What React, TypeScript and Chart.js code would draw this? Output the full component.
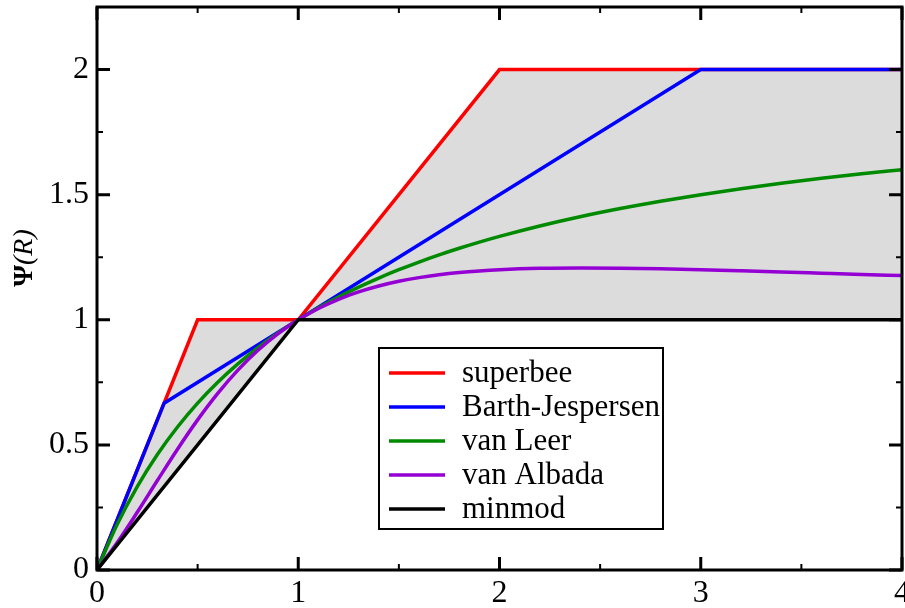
import { useEffect, useRef } from "react";
import { Chart, registerables } from "chart.js";

Chart.register(...registerables);

// ---- data ----
const smoothR = [
  0, 0.1, 0.2, 0.3, 0.4, 0.5, 0.6, 0.7, 0.8, 0.9, 1.0,
  1.1, 1.2, 1.3, 1.4, 1.5, 1.6, 1.7, 1.8, 1.9, 2.0,
  2.2, 2.4, 2.6, 2.8, 3.0, 3.2, 3.4, 3.6, 3.8, 4.0,
];
const vanLeerPsi = [
  0, 0.1818, 0.3333, 0.4615, 0.5714, 0.6667, 0.75, 0.8235, 0.8889, 0.9474, 1.0,
  1.0476, 1.0909, 1.1304, 1.1667, 1.2, 1.2308, 1.2593, 1.2857, 1.3103, 1.3333,
  1.375, 1.4118, 1.4444, 1.4737, 1.5, 1.5238, 1.5455, 1.5652, 1.5833, 1.6,
];
const vanAlbadaPsi = [
  0, 0.1089, 0.2308, 0.3578, 0.4828, 0.6, 0.7059, 0.7987, 0.878, 0.9448, 1.0,
  1.0452, 1.082, 1.1115, 1.1351, 1.1538, 1.1685, 1.1799, 1.1887, 1.1952, 1.2,
  1.2055, 1.2071, 1.2062, 1.2036, 1.2, 1.1957, 1.1911, 1.1862, 1.1813, 1.1765,
];
const superbeeR = [0, 0.5, 1, 2, 4];
const superbeePsi = [0, 1, 1, 2, 2];
const barthR = [0, 0.3333, 1, 3, 4];
const barthPsi = [0, 0.6667, 1, 2, 2];
const minmodR = [0, 1, 4];
const minmodPsi = [0, 1, 1];
const regionR = [0, 0.5, 1, 2, 4];
const regionUpper = [0, 1, 1, 2, 2];
const regionLower = [0, 0.5, 1, 1, 1];

const xMajor = [0, 1, 2, 3, 4];
const xMinor = [0.5, 1.5, 2.5, 3.5];
const xLabels = ["0", "1", "2", "3", "4"];
const yMajor = [0, 0.5, 1, 1.5, 2];
const yMinor = [0.25, 0.75, 1.25, 1.75];
const yLabels = ["0", "0.5", "1", "1.5", "2"];

const seriesNames = ["superbee", "Barth-Jespersen", "van Leer", "van Albada", "minmod"];
const seriesColors = ["#ff0000", "#0000ff", "#008a00", "#9400d3", "#000000"];

const pts = (xs: number[], ys: number[]) => xs.map((x, i) => ({ x, y: ys[i] }));

const SERIF = '"Liberation Serif", "DejaVu Serif", serif';

const framePlugin = {
  id: "frame",
  afterDatasetsDraw(chart: any) {
    const { ctx, chartArea: a, scales } = chart;
    const x = scales.x;
    const y = scales.y;
    ctx.save();
    ctx.strokeStyle = "#000";
    const drawX = (vals: number[], len: number, w: number) => {
      ctx.lineWidth = w;
      vals.forEach((v) => {
        const px = x.getPixelForValue(v);
        ctx.beginPath();
        ctx.moveTo(px, a.bottom);
        ctx.lineTo(px, a.bottom - len);
        ctx.moveTo(px, a.top);
        ctx.lineTo(px, a.top + len);
        ctx.stroke();
      });
    };
    const drawY = (vals: number[], len: number, w: number) => {
      ctx.lineWidth = w;
      vals.forEach((v) => {
        const py = y.getPixelForValue(v);
        ctx.beginPath();
        ctx.moveTo(a.left, py);
        ctx.lineTo(a.left + len, py);
        ctx.moveTo(a.right, py);
        ctx.lineTo(a.right - len, py);
        ctx.stroke();
      });
    };
    drawX(xMajor, 13, 3);
    drawX(xMinor, 6, 2);
    drawY(yMajor, 13, 3);
    drawY(yMinor, 6, 2);
    ctx.lineWidth = 3;
    ctx.strokeRect(a.left, a.top, a.right - a.left, a.bottom - a.top);
    ctx.restore();
  },
};

const legendPlugin = {
  id: "boxLegend",
  afterDraw(chart: any) {
    const { ctx } = chart;
    const left = 379;
    const top = 348;
    const right = 663;
    const bottom = 529;
    ctx.save();
    ctx.fillStyle = "#fff";
    ctx.fillRect(left, top, right - left, bottom - top);
    ctx.strokeStyle = "#000";
    ctx.lineWidth = 2;
    ctx.strokeRect(left, top, right - left, bottom - top);
    ctx.font = `31px ${SERIF}`;
    ctx.textBaseline = "middle";
    ctx.textAlign = "left";
    seriesNames.forEach((name, i) => {
      const cy = top + 25 + i * 34;
      ctx.strokeStyle = seriesColors[i];
      ctx.lineWidth = 3.5;
      ctx.beginPath();
      ctx.moveTo(389, cy);
      ctx.lineTo(445, cy);
      ctx.stroke();
      ctx.fillStyle = "#000";
      ctx.fillText(name, 462, cy + 1);
    });
    ctx.restore();
  },
};

const titlePlugin = {
  id: "yTitle",
  afterDraw(chart: any) {
    const { ctx } = chart;
    ctx.save();
    ctx.translate(25, 258);
    ctx.rotate(-Math.PI / 2);
    ctx.fillStyle = "#000";
    ctx.textBaseline = "middle";
    ctx.textAlign = "left";
    const f1 = `bold 28px ${SERIF}`;
    const f2 = `italic 28px ${SERIF}`;
    ctx.font = f1;
    const w1 = ctx.measureText("Ψ").width;
    ctx.font = f2;
    const w2 = ctx.measureText("(R)").width;
    const start = -(w1 + w2) / 2;
    ctx.font = f1;
    ctx.fillText("Ψ", start, 0);
    ctx.font = f2;
    ctx.fillText("(R)", start + w1, 0);
    ctx.restore();
  },
};

export default function App() {
  const ref = useRef<HTMLCanvasElement | null>(null);
  useEffect(() => {
    if (!ref.current) return;
    const line = (label: string, data: any[], color: string, order: number, smooth = false) => ({
      label,
      data,
      borderColor: color,
      backgroundColor: color,
      borderWidth: 3.5,
      pointRadius: 0,
      fill: false,
      order,
      tension: 0,
      cubicInterpolationMode: smooth ? "monotone" : "default",
    });
    const chart = new Chart(ref.current, {
      type: "line",
      data: {
        datasets: [
          line(seriesNames[0], pts(superbeeR, superbeePsi), seriesColors[0], 4) as any,
          line(seriesNames[1], pts(barthR, barthPsi), seriesColors[1], 3) as any,
          line(seriesNames[2], pts(smoothR, vanLeerPsi), seriesColors[2], 2, true) as any,
          line(seriesNames[3], pts(smoothR, vanAlbadaPsi), seriesColors[3], 1, true) as any,
          line(seriesNames[4], pts(minmodR, minmodPsi), seriesColors[4], 0) as any,
          {
            label: "region",
            data: pts(regionR, regionUpper),
            borderWidth: 0,
            borderColor: "rgba(0,0,0,0)",
            backgroundColor: "#dcdcdc",
            pointRadius: 0,
            fill: "+1",
            order: 10,
          } as any,
          {
            label: "regionLow",
            data: pts(regionR, regionLower),
            borderWidth: 0,
            borderColor: "rgba(0,0,0,0)",
            pointRadius: 0,
            fill: false,
            order: 11,
          } as any,
        ],
      },
      options: {
        animation: false,
        responsive: false,
        devicePixelRatio: 1,
        layout: { padding: { left: 0, top: 7, right: 3, bottom: 0 } },
        plugins: {
          legend: { display: false },
          tooltip: { enabled: false },
        },
        scales: {
          x: {
            type: "linear",
            min: 0,
            max: 4,
            afterFit: (s: any) => {
              s.height = 38;
              s.paddingLeft = 0;
              s.paddingRight = 0;
            },
            afterBuildTicks: (s: any) => {
              s.ticks = xMajor.map((v) => ({ value: v }));
            },
            grid: { display: false, drawTicks: false },
            border: { display: false },
            ticks: {
              padding: 4,
              color: "#000",
              font: { family: SERIF, size: 32 },
              maxRotation: 0,
              callback: (v: any) => {
                const i = xMajor.indexOf(Number(v));
                return i >= 0 ? xLabels[i] : "";
              },
            },
          },
          y: {
            type: "linear",
            min: 0,
            max: 2.25,
            afterFit: (s: any) => {
              s.width = 97;
              s.paddingTop = 0;
              s.paddingBottom = 0;
            },
            afterBuildTicks: (s: any) => {
              s.ticks = yMajor.map((v) => ({ value: v }));
            },
            grid: { display: false, drawTicks: false },
            border: { display: false },
            ticks: {
              padding: 8,
              color: "#000",
              font: { family: SERIF, size: 32 },
              callback: (v: any) => {
                const i = yMajor.indexOf(Number(v));
                return i >= 0 ? yLabels[i] : "";
              },
            },
          },
        },
      },
      plugins: [framePlugin, legendPlugin, titlePlugin],
    });
    return () => chart.destroy();
  }, []);
  return (
    <div style={{ position: "absolute", left: 0, top: 0, width: 905, height: 608, background: "#fff" }}>
      <canvas ref={ref} width={905} height={608} style={{ display: "block" }} />
    </div>
  );
}
